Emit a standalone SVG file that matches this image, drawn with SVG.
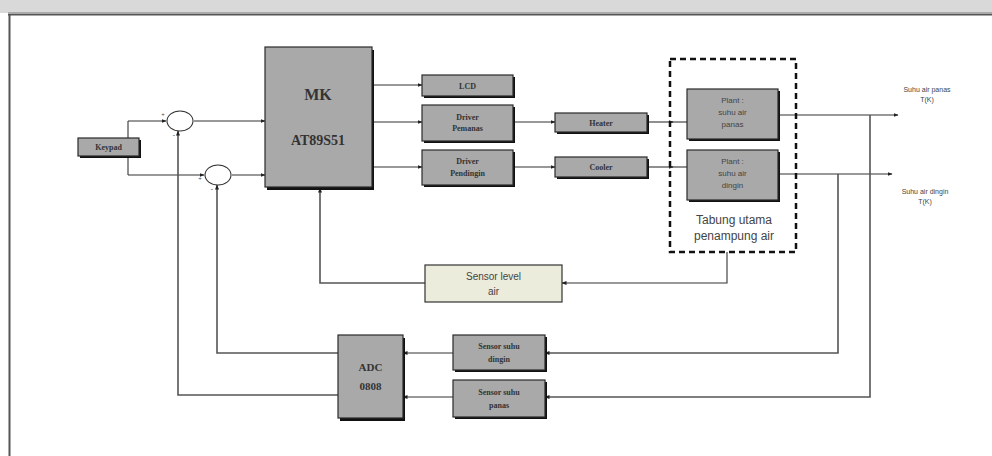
<svg xmlns="http://www.w3.org/2000/svg" width="992" height="456" viewBox="0 0 992 456">
<defs>
<marker id="arr" viewBox="0 0 10 10" refX="9" refY="5" markerWidth="5" markerHeight="5" orient="auto" markerUnits="userSpaceOnUse">
<path d="M0,1 L10,5 L0,9 z" fill="#222"/>
</marker>
<style>
.box{fill:#a9a9a9;stroke:#2a2a2a;stroke-width:1.2}
.sh{fill:#111}
.t{font-family:"Liberation Serif",serif;font-weight:bold;font-size:8px;fill:#333;text-anchor:middle}
.s{font-family:"Liberation Sans",sans-serif;font-size:8px;fill:#444;text-anchor:middle}
.ln{fill:none;stroke:#333;stroke-width:1.1}
.fb{fill:none;stroke:#555;stroke-width:1.6}
.sum{fill:#fff;stroke:#333;stroke-width:1.1}
</style>
</defs>
<rect x="0" y="0" width="992" height="456" fill="#fff"/>
<rect x="0" y="0" width="992" height="13" fill="#d9d9d9"/>
<line x1="8" y1="14.5" x2="992" y2="14.5" stroke="#555" stroke-width="2"/>
<line x1="9.5" y1="14" x2="9.5" y2="456" stroke="#555" stroke-width="2"/>
<line x1="8" y1="12.5" x2="992" y2="12.5" stroke="#aaa" stroke-width="1"/>

<g id="connectors">
<polyline class="ln" points="139,147 128,147"/>
<polyline class="ln" points="128,121 128,175"/>
<line class="ln" x1="128" y1="121" x2="166" y2="121" marker-end="url(#arr)"/>
<line class="ln" x1="128" y1="175" x2="204" y2="175" marker-end="url(#arr)"/>
<line class="ln" x1="194" y1="121" x2="265" y2="121" marker-end="url(#arr)"/>
<line class="ln" x1="232" y1="175" x2="265" y2="175" marker-end="url(#arr)"/>
<line class="ln" x1="372" y1="85" x2="422" y2="85" marker-end="url(#arr)"/>
<line class="ln" x1="372" y1="122" x2="422" y2="122" marker-end="url(#arr)"/>
<line class="ln" x1="372" y1="167" x2="422" y2="167" marker-end="url(#arr)"/>
<line class="ln" x1="513" y1="122" x2="555" y2="122" marker-end="url(#arr)"/>
<line class="ln" x1="513" y1="167" x2="555" y2="167" marker-end="url(#arr)"/>
<line class="ln" x1="647" y1="122" x2="673" y2="122" marker-end="url(#arr)"/>
<line class="ln" x1="672" y1="122" x2="687" y2="122"/>
<line class="ln" x1="647" y1="167" x2="673" y2="167" marker-end="url(#arr)"/>
<line class="ln" x1="672" y1="167" x2="687" y2="167"/>
<line class="ln" x1="778" y1="115" x2="898" y2="115" marker-end="url(#arr)"/>
<line class="ln" x1="778" y1="174" x2="892" y2="174" marker-end="url(#arr)"/>
<polyline class="fb" points="870,115 870,397 545,397" marker-end="url(#arr)"/>
<polyline class="fb" points="838,174 838,353 545,353" marker-end="url(#arr)"/>
<line class="ln" x1="453" y1="353" x2="403" y2="353" marker-end="url(#arr)"/>
<line class="ln" x1="453" y1="397" x2="403" y2="397" marker-end="url(#arr)"/>
<polyline class="fb" points="338,353 217,353 217,185" marker-end="url(#arr)"/>
<polyline class="fb" points="338,395 178,395 178,131" marker-end="url(#arr)"/>
<polyline class="ln" points="727,252 727,283 562,283" marker-end="url(#arr)"/>
<polyline class="fb" points="425,283 320,283 320,188" marker-end="url(#arr)"/>
</g>

<g id="keypad">
<rect class="sh" x="80" y="140" width="61" height="18"/>
<rect class="box" x="78" y="138" width="61" height="18"/>
<text class="t" x="108.5" y="150">Keypad</text>
</g>
<g id="sum1">
<ellipse class="sum" cx="180" cy="121" rx="13" ry="10"/>
<text class="s" x="163" y="116" style="font-size:6px">+</text>
<text class="s" x="174" y="137" style="font-size:7px">-</text>
</g>
<g id="sum2">
<ellipse class="sum" cx="218" cy="175" rx="13" ry="10"/>
<text class="s" x="200" y="180" style="font-size:6px">+</text>
<text class="s" x="212" y="191" style="font-size:7px">-</text>
</g>
<g id="mk">
<rect class="sh" x="267" y="50" width="107" height="140"/>
<rect class="box" x="265" y="47" width="107" height="140"/>
<text class="t" x="318" y="100" style="font-size:16px">MK</text>
<text class="t" x="318" y="145" style="font-size:14px">AT89S51</text>
</g>
<g id="lcd">
<rect class="sh" x="424" y="77" width="91" height="21"/>
<rect class="box" x="422" y="75" width="91" height="21"/>
<text class="t" x="467.5" y="89">LCD</text>
</g>
<g id="driver-pemanas">
<rect class="sh" x="424" y="107" width="91" height="36"/>
<rect class="box" x="422" y="105" width="91" height="36"/>
<text class="t" x="467.5" y="120">Driver</text>
<text class="t" x="467.5" y="131">Pemanas</text>
</g>
<g id="driver-pendingin">
<rect class="sh" x="424" y="152" width="91" height="35"/>
<rect class="box" x="422" y="150" width="91" height="35"/>
<text class="t" x="467.5" y="164">Driver</text>
<text class="t" x="467.5" y="176">Pendingin</text>
</g>
<g id="heater">
<rect class="sh" x="557" y="115" width="92" height="19"/>
<rect class="box" x="555" y="113" width="92" height="19"/>
<text class="t" x="601" y="126">Heater</text>
</g>
<g id="cooler">
<rect class="sh" x="557" y="159" width="92" height="20"/>
<rect class="box" x="555" y="157" width="92" height="20"/>
<text class="t" x="601" y="170">Cooler</text>
</g>
<g id="tabung">
<rect x="670" y="59" width="126" height="193" fill="none" stroke="#111" stroke-width="2.5" stroke-dasharray="6,4"/>
<text class="s" x="734" y="224" style="font-size:12px">Tabung utama</text>
<text class="s" x="734" y="240" style="font-size:12px">penampung air</text>
</g>
<g id="plant-panas">
<rect class="sh" x="689" y="91" width="91" height="50"/>
<rect class="box" x="687" y="89" width="91" height="50"/>
<text class="s" x="732.5" y="103">Plant :</text>
<text class="s" x="732.5" y="115">suhu air</text>
<text class="s" x="732.5" y="127">panas</text>
</g>
<g id="plant-dingin">
<rect class="sh" x="689" y="152" width="91" height="50"/>
<rect class="box" x="687" y="150" width="91" height="50"/>
<text class="s" x="732.5" y="164">Plant :</text>
<text class="s" x="732.5" y="176">suhu air</text>
<text class="s" x="732.5" y="188">dingin</text>
</g>
<g id="out-panas">
<text class="s" x="927" y="92" style="font-size:7px">Suhu air panas</text>
<text class="s" x="927" y="102" style="font-size:7px">T(K)</text>
</g>
<g id="out-dingin">
<text class="s" x="925" y="194" style="font-size:7px">Suhu air dingin</text>
<text class="s" x="925" y="204" style="font-size:7px">T(K)</text>
</g>
<g id="sensor-level">
<rect x="425" y="265" width="137" height="37" fill="#ececdc" stroke="#333" stroke-width="1.2"/>
<text class="s" x="493.5" y="280" style="font-size:10px">Sensor level</text>
<text class="s" x="493.5" y="295" style="font-size:10px">air</text>
</g>
<g id="adc">
<rect class="sh" x="340" y="338" width="65" height="83"/>
<rect class="box" x="338" y="335" width="65" height="83"/>
<text class="t" x="370.5" y="371" style="font-size:11px">ADC</text>
<text class="t" x="370.5" y="390" style="font-size:11px">0808</text>
</g>
<g id="sensor-dingin">
<rect class="sh" x="455" y="337" width="92" height="35"/>
<rect class="box" x="453" y="335" width="92" height="35"/>
<text class="t" x="499" y="349">Sensor suhu</text>
<text class="t" x="499" y="362">dingin</text>
</g>
<g id="sensor-panas">
<rect class="sh" x="455" y="382" width="92" height="37"/>
<rect class="box" x="453" y="380" width="92" height="37"/>
<text class="t" x="499" y="395">Sensor suhu</text>
<text class="t" x="499" y="408">panas</text>
</g>
</svg>
